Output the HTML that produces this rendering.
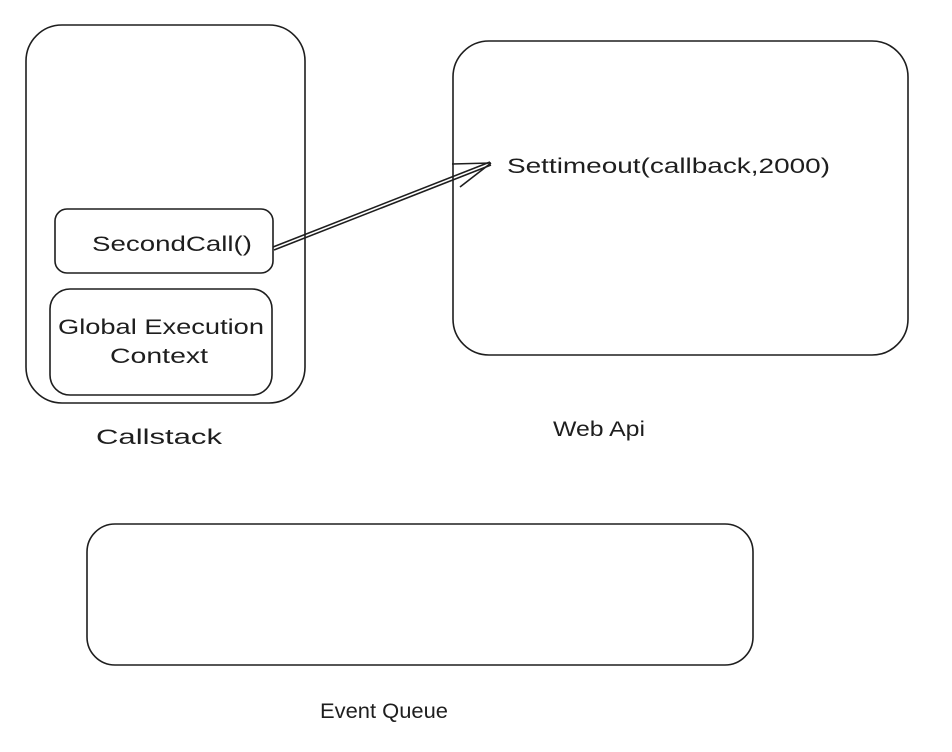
<!DOCTYPE html>
<html><head><meta charset="utf-8"><style>
html,body{margin:0;padding:0;background:#fff;width:952px;height:752px;overflow:hidden}
svg{display:block}
text{font-family:"Liberation Sans",sans-serif;font-size:21px;fill:#1e1e1e}
</style></head><body>
<svg width="952" height="752" viewBox="0 0 952 752">
<g fill="none" stroke="#1e1e1e" stroke-width="1.6">
<rect x="26" y="25" width="279" height="378" rx="36"/>
<rect x="55" y="209" width="218" height="64" rx="12"/>
<rect x="50" y="289" width="222" height="106" rx="20"/>
<rect x="453" y="41" width="455" height="314" rx="36"/>
<rect x="87" y="524" width="666" height="141" rx="28"/>
<line x1="273" y1="247" x2="490" y2="162"/>
<line x1="274" y1="250" x2="491" y2="165"/>
<line x1="491" y1="163" x2="452" y2="164"/>
<line x1="491" y1="163" x2="460" y2="187"/>
</g>
<text x="92" y="251" textLength="160" lengthAdjust="spacingAndGlyphs">SecondCall()</text>
<text x="58" y="334" textLength="206" lengthAdjust="spacingAndGlyphs">Global Execution</text>
<text x="110" y="363" textLength="98" lengthAdjust="spacingAndGlyphs">Context</text>
<text x="507" y="173" textLength="323" lengthAdjust="spacingAndGlyphs">Settimeout(callback,2000)</text>
<text x="96" y="444" textLength="126" lengthAdjust="spacingAndGlyphs">Callstack</text>
<text x="553" y="436" textLength="92" lengthAdjust="spacingAndGlyphs">Web Api</text>
<text x="320" y="718" textLength="128" lengthAdjust="spacingAndGlyphs">Event Queue</text>
</svg>
</body></html>
